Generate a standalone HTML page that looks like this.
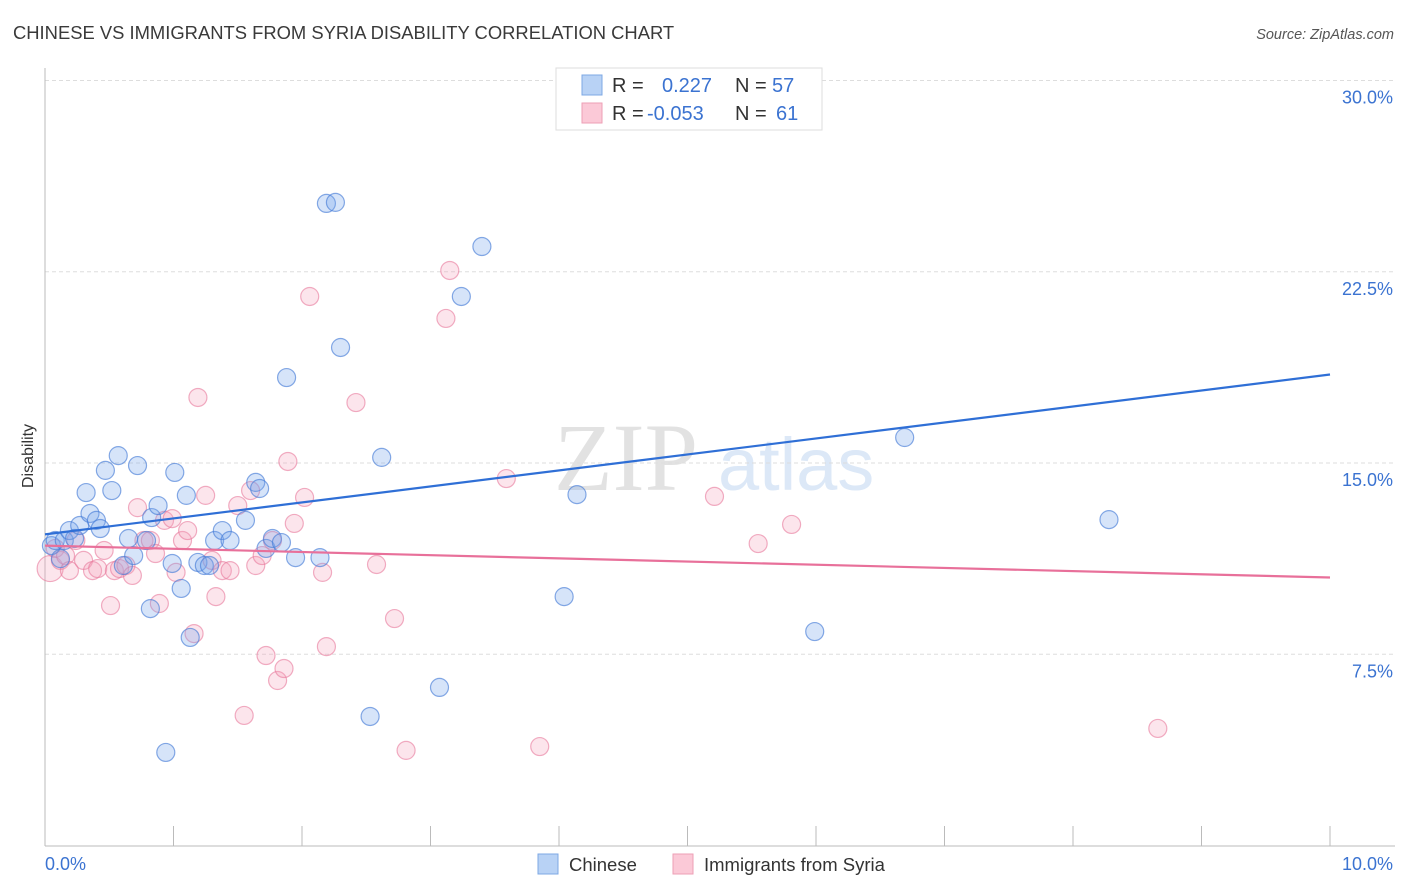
<!DOCTYPE html>
<html><head><meta charset="utf-8"><style>
body{margin:0;background:#fff;font-family:"Liberation Sans",sans-serif}
svg{display:block}
</style></head><body>
<svg id="chart" width="1406" height="892" viewBox="0 0 1406 892" xmlns="http://www.w3.org/2000/svg">
<text x="13" y="39" font-size="18.4" fill="#3a3a3a" font-family="Liberation Sans, sans-serif">CHINESE VS IMMIGRANTS FROM SYRIA DISABILITY CORRELATION CHART</text>
<text x="1394" y="39" font-size="14.5" fill="#555" font-style="italic" text-anchor="end" font-family="Liberation Sans, sans-serif">Source: ZipAtlas.com</text>
<g>
<text x="554" y="490" font-size="96" fill="#e2e2e2" font-family="Liberation Serif, serif">ZIP</text>
<text x="718" y="490" font-size="74" fill="#dce8f7" font-family="Liberation Sans, sans-serif">atlas</text>
</g>
<g id="grid"></g>
<g id="axes"></g>
<g id="pts"></g>
<g id="trends"></g>
<text transform="translate(33,456) rotate(-90)" font-size="16" fill="#333" text-anchor="middle" font-family="Liberation Sans, sans-serif">Disability</text>
<g>
<rect x="556" y="68" width="266" height="62" fill="#fff" stroke="#ddd"/>
<rect x="582" y="75" width="20" height="20" fill="#b8d2f5" stroke="#7ea8e4"/>
<rect x="582" y="103" width="20" height="20" fill="#fbc9d7" stroke="#ee9fb6"/>
<text x="612" y="92" font-size="20" fill="#333">R =</text><text x="662" y="92" font-size="20" fill="#3b73d1">0.227</text>
<text x="735" y="92" font-size="20" fill="#333">N =</text><text x="772" y="92" font-size="20" fill="#3b73d1">57</text>
<text x="612" y="120" font-size="20" fill="#333">R =</text><text x="647" y="120" font-size="20" fill="#3b73d1">-0.053</text>
<text x="735" y="120" font-size="20" fill="#333">N =</text><text x="776" y="120" font-size="20" fill="#3b73d1">61</text>
</g>
<g>
<rect x="538" y="854" width="20" height="20" fill="#b8d2f5" stroke="#7ea8e4"/>
<text x="569" y="871" font-size="18.5" fill="#333">Chinese</text>
<rect x="673" y="854" width="20" height="20" fill="#fbc9d7" stroke="#ee9fb6"/>
<text x="704" y="871" font-size="18.5" fill="#333">Immigrants from Syria</text>
</g>
</svg>
<script>
const blueX=[0.05,0.08,0.12,0.15,0.19,0.23,0.27,0.32,0.35,0.40,0.43,0.47,0.52,0.57,0.61,0.65,0.69,0.72,0.79,0.82,0.83,0.88,0.94,0.99,1.01,1.06,1.10,1.13,1.19,1.24,1.28,1.32,1.38,1.44,1.56,1.64,1.67,1.72,1.77,1.84,1.88,1.95,2.14,2.19,2.26,2.30,2.53,2.62,3.07,3.24,3.40,4.04,4.14,5.99,6.69,8.28,4.58];
const blueY=[11.76,11.96,11.25,11.96,12.35,12.04,12.55,13.84,13.02,12.75,12.43,14.71,13.92,15.29,10.98,12.04,11.37,14.90,11.96,9.29,12.86,13.33,3.65,11.06,14.63,10.08,13.73,8.16,11.10,10.98,10.98,11.96,12.35,11.96,12.75,14.24,14.00,11.65,12.04,11.88,18.35,11.29,11.29,25.18,25.22,19.53,5.06,15.22,6.20,21.53,23.49,9.76,13.76,8.39,16.0,12.78,29.69];
const pinkX=[0.04,0.08,0.12,0.16,0.19,0.24,0.30,0.37,0.41,0.46,0.51,0.54,0.58,0.63,0.68,0.72,0.77,0.82,0.86,0.89,0.93,0.99,1.02,1.07,1.11,1.16,1.19,1.25,1.30,1.33,1.38,1.44,1.50,1.55,1.60,1.64,1.69,1.72,1.77,1.81,1.86,1.89,1.94,2.02,2.06,2.16,2.19,2.42,2.58,2.72,2.81,3.12,3.15,3.59,3.85,5.21,5.55,5.81,8.66];
const pinkY=[10.86,11.65,11.18,11.37,10.78,11.96,11.18,10.78,10.86,11.57,9.41,10.78,10.86,10.98,10.59,13.25,11.96,11.96,11.45,9.49,12.75,12.82,10.71,11.96,12.35,8.31,17.57,13.73,11.18,9.76,10.78,10.78,13.33,5.10,13.92,10.98,11.37,7.45,11.96,6.47,6.94,15.06,12.63,13.65,21.53,10.71,7.80,17.37,11.02,8.90,3.73,20.67,22.55,14.39,3.88,13.69,11.84,12.59,4.59];
const blueTrend=[12.2,18.47];
const pinkTrend=[11.76,10.51];
const yTicks=[7.5,15,22.5,30];
const yTickLabels=["7.5%","15.0%","22.5%","30.0%"];
const xTicks=[0,1,2,3,4,5,6,7,8,9,10];
const xLabels=["0.0%","10.0%"];
const NS="http://www.w3.org/2000/svg";
const X=v=>45+v*128.5, Y=v=>845.5-v*25.5;
function mk(t,p,a){const e=document.createElementNS(NS,t);for(const k in a)e.setAttribute(k,a[k]);p.appendChild(e);return e;}
const grid=document.getElementById('grid'),axes=document.getElementById('axes'),pts=document.getElementById('pts'),tr=document.getElementById('trends');
yTicks.forEach((t,i)=>{
 const l=mk('line',grid,{x1:45,x2:1395,y1:Y(t),y2:Y(t),stroke:'#ddd','stroke-dasharray':'4,3'});
 
 
 const tx=mk('text',axes,{x:1393,y:Y(t)+23,'font-size':18,fill:'#3b73d1','text-anchor':'end'});
 tx.textContent=yTickLabels[i];
 
 
});
const ya=mk('line',axes,{x1:45,x2:45,y1:68,y2:846,stroke:'#bbb'});


const xa=mk('line',axes,{x1:45,x2:1395,y1:846,y2:846,stroke:'#bbb'});


xTicks.forEach(t=>{
 const k=mk('line',axes,{x1:X(t),x2:X(t),y1:826,y2:846,stroke:'#bbb'});
 
 
});
const xl0=mk('text',axes,{x:45,y:870,'font-size':18,fill:'#3b73d1'});xl0.textContent=xLabels[0];


const xl1=mk('text',axes,{x:1393,y:870,'font-size':18,fill:'#3b73d1','text-anchor':'end'});xl1.textContent=xLabels[1];


pinkX.forEach((x,i)=>{
 const c=mk('circle',pts,{cx:X(x),cy:Y(pinkY[i]),r:i==0?13:9,fill:'rgba(244,160,188,0.28)',stroke:'rgba(232,120,155,0.6)','stroke-width':1.2});
 
 
});
blueX.forEach((x,i)=>{
 const c=mk('circle',pts,{cx:X(x),cy:Y(blueY[i]),r:9,fill:'rgba(120,165,235,0.3)',stroke:'rgba(70,125,215,0.65)','stroke-width':1.2});
 
 
});
const bl=mk('line',tr,{x1:X(0),y1:Y(blueTrend[0]),x2:X(10),y2:Y(blueTrend[1]),stroke:'#2f6fd6','stroke-width':2.2});


const pl=mk('line',tr,{x1:X(0),y1:Y(pinkTrend[0]),x2:X(10),y2:Y(pinkTrend[1]),stroke:'#e8709a','stroke-width':2.2});


</script>
</body></html>
